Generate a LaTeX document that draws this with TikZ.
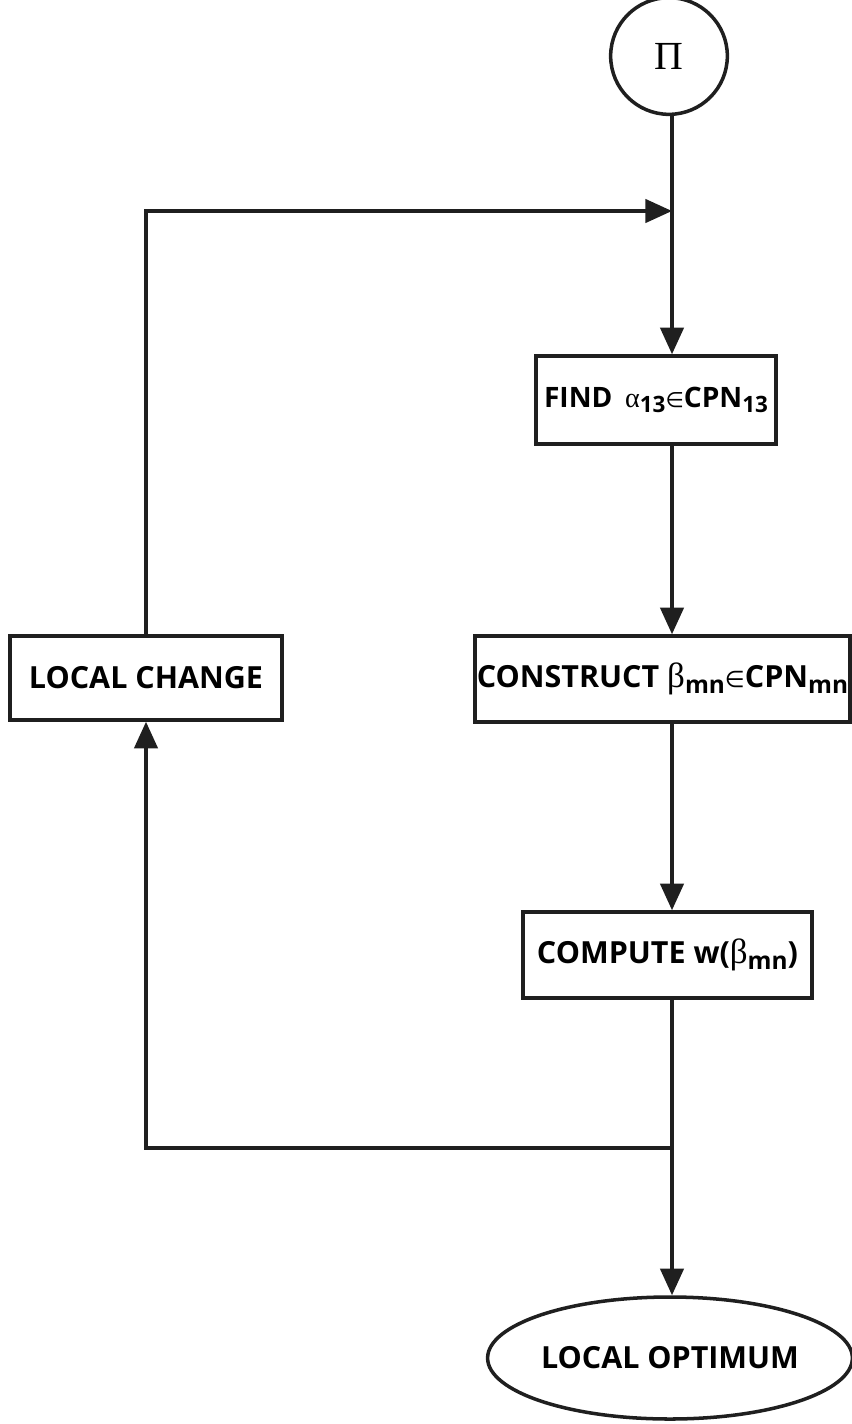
\documentclass[tikz,border=0pt]{standalone}
\usepackage{fontspec}
\setmainfont{Open Sans}
\newfontfamily\grkf{Liberation Serif}
\newfontfamily\symf{DejaVu Sans}
\usetikzlibrary{arrows.meta,shapes.geometric}
\newcommand\grk[1]{{\grkf\mdseries\scalebox{1.15}{#1}}}
\newcommand\lowr[1]{\raisebox{-0.35ex}{\scalebox{0.8}{#1}}}
\newcommand\elem{{\mdseries\symf\scalebox{0.75}{∈}}}
\begin{document}
\begin{tikzpicture}[x=0.03cm,y=-0.03cm,
  line/.style={line width=3pt,draw=black!88},
  arr/.style={line,-{Triangle[length=0.8cm,width=0.7cm]}},
  box/.style={line,rectangle,inner sep=0pt,font=\fontsize{26}{29}\selectfont\bfseries},
  oval/.style={line,ellipse,inner sep=0pt,font=\fontsize{26}{29}\selectfont\bfseries}]
\useasboundingbox (0,0) rectangle (852,1424);
\node[line,circle,minimum size=3.5cm,inner sep=0pt,font=\fontsize{34}{36}\selectfont] (circ) at (669,56) {\grkf Π};
\node[box,minimum width=7.2cm,minimum height=2.64cm,font=\fontsize{24}{27}\selectfont\bfseries] (find) at (656,400)
  {FIND\hspace{0.45em}{\grkf\mdseries α}\lowr{13}\elem CPN\lowr{13}};
\node[box,minimum width=11.25cm,minimum height=2.58cm] (cons) at (662.5,679)
  {CONSTRUCT \grk{β}\lowr{mn}\elem CPN\lowr{mn}};
\node[box,minimum width=8.16cm,minimum height=2.52cm] (lc) at (146,678) {LOCAL CHANGE};
\node[box,minimum width=8.67cm,minimum height=2.58cm] (comp) at (667.5,955)
  {COMPUTE w(\grk{β}\lowr{mn})};
\node[oval,minimum width=10.92cm,minimum height=3.66cm] (opt) at (670,1358) {LOCAL OPTIMUM};
\coordinate (j1) at (672,211);
\coordinate (j2) at (672,1148);
\draw[line] (circ.south -| j1) -- (j1);
\draw[arr] (j1) -- (j1 |- find.north);
\draw[arr] (lc.north) |- (j1);
\draw[arr] (j1 |- find.south) -- (j1 |- cons.north);
\draw[arr] (j1 |- cons.south) -- (j1 |- comp.north);
\draw[line] (j2 |- comp.south) -- (j2);
\draw[arr] (j2) -- (j2 |- opt.north);
\draw[arr] (j2) -| (lc.south);
\end{tikzpicture}
\end{document}
